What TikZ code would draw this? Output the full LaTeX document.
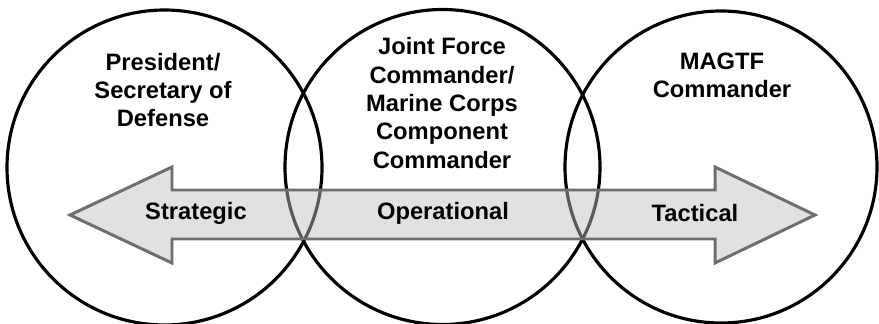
\documentclass[tikz,border=0pt]{standalone}
\usepackage[svgnames]{xcolor}
\usepackage{fontspec}
\setmainfont{Liberation Sans}
\usepackage{tikz}

\begin{document}
\begin{tikzpicture}[every node/.style={font=\bfseries\fontsize{13.5}{16.2}\selectfont, align=center, inner sep=0pt}]
	\useasboundingbox (0,0) rectangle (17.58,6.46);
	\node[draw, circle, line width=1.8pt, minimum size=6.3cm] (secdef) at (3.29,3.11) {};
	\node[draw, circle, line width=1.8pt, minimum size=6.3cm] (jfc) at (8.85,3.12) {};
	\node[draw, circle, line width=1.8pt, minimum size=6.24cm] (magtf) at (14.42,3.12) {};
	\node at (3.26,4.66) {President/\\Secretary of\\Defense};
	\node at (8.84,4.40) {Joint Force\\Commander/\\Marine Corps\\Component\\Commander};
	\node at (14.44,4.95) {MAGTF\\Commander};
	\draw[color=black!57, fill=black!25, fill opacity=.47, line width=1.7pt] (1.4,2.16) -- (3.44,3.12) -- (3.44,2.66) -- (14.3,2.66) -- (14.3,3.12) -- (16.3,2.16) -- (14.3,1.2) -- (14.3,1.68) -- (3.44,1.68) -- (3.44,1.2) -- cycle;
	\node (strat) at (3.92,2.20) {Strategic};
	\node (oper) at (8.86,2.20) {Operational};
	\node (tact) at (13.90,2.20) {Tactical};
\end{tikzpicture}
\end{document}
